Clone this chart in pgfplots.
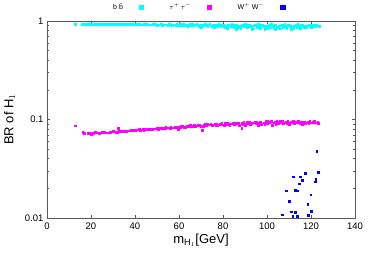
\documentclass[border=0pt]{standalone}
\usepackage{pgfplots}
\pgfplotsset{compat=1.18}
\usepackage{fontspec}
\setmainfont{Liberation Sans}
\definecolor{cy}{RGB}{0,255,255}
\definecolor{mg}{RGB}{255,0,255}
\definecolor{bl}{RGB}{0,0,255}
\begin{document}
\begin{tikzpicture}
\path[use as bounding box] (-47pt,-44pt) rectangle (327pt,218pt);
\begin{axis}[
  scale only axis, width=308pt, height=197pt,
  xmin=0, xmax=140, ymode=log, ymin=0.01, ymax=1,
  xtick={0,20,...,140},
  ytick={0.01,0.1,1}, yticklabels={0.01,0.1,1},
  tick align=inside, xtick pos=both, ytick pos=both,
  axis line style={gray!70!black, line width=0.5pt},
  tick style={gray!70!black, line width=0.5pt},
  major tick length=3pt, minor tick length=1.8pt,
  /pgf/number format/assume math mode=true,
  tick label style={font=\fontsize{9.5}{11}\selectfont, text=black},
  xticklabel style={yshift=-1.5pt},
  xlabel={m$_{\mathrm{H}_1}$[GeV]},
  ylabel={BR of H$_1$},
  label style={font=\fontsize{13}{15}\selectfont},
  xlabel style={yshift=3pt},
  ylabel style={yshift=3pt},
  legend style={at={(0.5,1)}, anchor=center, yshift=14pt, xshift=-3pt, draw=none, fill=none,
    font=\fontsize{7}{8}\selectfont, legend columns=3,
    /tikz/every odd column/.append style={column sep=14pt},
    /tikz/every even column/.append style={column sep=24pt}},
  legend plot pos=right,
  legend image code/.code={\draw[mark=square*, mark size=2.2pt, mark options={draw=none}] plot coordinates {(0cm,0cm)};},
  only marks,
]
\addplot[cy, mark=square*, mark size=0.85pt, mark options={draw=none, fill=cy}] coordinates {
(12.7,0.922) (15.8,0.926) (16.8,0.924) (18.0,0.927) (19.3,0.923) (20.5,0.926) (21.8,0.924) (23.0,0.927)
(24.3,0.922) (25.5,0.925) (26.8,0.927) (28.0,0.923) (29.3,0.926) (30.5,0.924) (31.8,0.921) (33.0,0.925)
(34.3,0.923) (35.5,0.926) (36.8,0.922) (38.0,0.924) (39.3,0.921) (40.5,0.925) (41.8,0.923) (43.0,0.920)
(44.3,0.924) (45.5,0.922) (46.8,0.919) (48.0,0.923) (49.3,0.921) (50.5,0.918) (51.8,0.922) (53.0,0.920)
(54.3,0.916) (55.5,0.921) (56.8,0.918) (58.0,0.914) (59.0,0.924) (59.5,0.895) (60.5,0.921) (61.0,0.910)
(20,0.916) (25,0.917) (30,0.915) (35,0.916) (40,0.914) (45,0.915) (50,0.912) (55,0.910)
(22.5,0.919) (27.5,0.918) (32.5,0.917) (37.5,0.918) (42.5,0.916) (47.5,0.914) (52.5,0.913) (57,0.908)
(62.0,0.926) (62.5,0.902) (63.5,0.918) (64.0,0.885) (65.0,0.922) (65.5,0.906) (66.5,0.915) (67.0,0.893)
(68.0,0.924) (68.5,0.900) (69.5,0.912) (70.0,0.870) (71.0,0.919) (71.5,0.896) (72.5,0.908) (73.0,0.880)
(74.0,0.921) (74.5,0.894) (75.5,0.905) (76.0,0.862) (77.0,0.917) (77.5,0.890) (78.5,0.903) (79.0,0.875)
(80.0,0.920) (80.5,0.885) (81.5,0.898) (82.0,0.845) (83.0,0.915) (83.5,0.880) (84.5,0.900) (85.0,0.860)
(86.0,0.918) (86.5,0.887) (87.5,0.897) (88.0,0.840) (89.0,0.913) (89.5,0.876) (90.5,0.895) (91.0,0.855)
(92.0,0.916) (92.5,0.884) (93.5,0.898) (94.0,0.835) (95.0,0.912) (95.5,0.872) (96.5,0.893) (97.0,0.850)
(98.0,0.917) (98.5,0.882) (99.5,0.896) (100.0,0.842) (101.0,0.913) (101.5,0.870) (102.5,0.890) (103.0,0.852)
(104.0,0.915) (104.5,0.878) (105.5,0.893) (106.0,0.838) (107.0,0.911) (107.5,0.868) (108.5,0.887) (109.0,0.848)
(110.0,0.914) (110.5,0.875) (111.5,0.891) (112.0,0.845) (113.0,0.910) (113.5,0.868) (114.5,0.885) (115.0,0.850)
(116.0,0.913) (116.5,0.873) (117.5,0.889) (118.0,0.855) (119.0,0.908) (119.5,0.877) (120.0,0.862) (120.5,0.892)
(121.0,0.900) (122.0,0.882) (123.0,0.895) (123.8,0.888)
(58.5,0.912) (60.0,0.905) (61.5,0.917) (63.0,0.898) (64.5,0.912) (66.0,0.903) (67.5,0.918) (69.0,0.889)
(70.5,0.907) (72.0,0.898) (73.5,0.914) (75.0,0.883) (76.5,0.909) (78.0,0.894) (79.5,0.912) (81.0,0.872)
(82.5,0.905) (84.0,0.889) (85.5,0.910) (87.0,0.866) (88.5,0.902) (90.0,0.886) (91.5,0.908) (93.0,0.862)
(94.5,0.900) (96.0,0.880) (97.5,0.906) (99.0,0.865) (100.5,0.899) (102.0,0.878) (103.5,0.905) (105.0,0.860)
(106.5,0.897) (108.0,0.876) (109.5,0.902) (111.0,0.858) (112.5,0.896) (114.0,0.872) (115.5,0.900) (117.0,0.862)
(118.5,0.893) (120.0,0.905) (121.5,0.887) (122.5,0.910) (66.0,0.925) (72.0,0.927) (78.0,0.924) (84.0,0.926)
(90.0,0.923) (96.0,0.925) (102.0,0.922) (108.0,0.924) (114.0,0.921) (120.0,0.918) (86.0,0.822) (99.0,0.815)
(104.0,0.825) (111.0,0.818) (93.0,0.828)
};
\addlegendentry{b \={b}}
\addplot[mg, mark=square*, mark size=0.85pt, mark options={draw=none, fill=mg}] coordinates {
(12.7,0.0865) (16.2,0.0740) (17.0,0.0730) (18.8,0.0722) (19.5,0.0730) (21.0,0.0725) (22.3,0.0733) (23.5,0.0728)
(25.0,0.0738) (26.2,0.0742) (27.5,0.0737) (28.8,0.0746) (30.0,0.0750) (31.2,0.0748) (32.4,0.0815) (32.6,0.0757)
(33.8,0.0760) (35.0,0.0765) (36.2,0.0772) (37.5,0.0768) (38.7,0.0778) (40.0,0.0781) (41.3,0.0786) (42.5,0.0783)
(43.8,0.0792) (45.0,0.0797) (46.2,0.0795) (47.5,0.0803) (48.7,0.0808) (50.0,0.0812) (50.5,0.0800) (51.4,0.0818)
(52.6,0.0822) (53.8,0.0815) (55.0,0.0828) (56.2,0.0834) (57.5,0.0826) (58.7,0.0839) (59.7,0.0802) (60.0,0.0845)
(20,0.0715) (24,0.0721) (28,0.0735) (32,0.0743) (36,0.0760) (40,0.0772) (44,0.0783) (48,0.0796) (52,0.0810) (56,0.0820)
(22,0.0740) (26,0.0750) (30,0.0758) (34,0.0772) (38,0.0785) (42,0.0795) (46,0.0808) (50,0.0822) (54,0.0832) (58,0.0845)
(60.8,0.0832) (61.3,0.0851) (62.5,0.0842) (63.7,0.0857) (64.4,0.0868) (65.0,0.0849) (66.2,0.0862) (67.0,0.0875)
(67.5,0.0855) (68.7,0.0869) (69.4,0.0882) (70.0,0.0860) (70.6,0.0774) (71.2,0.0878) (72.0,0.0890) (72.5,0.0866)
(73.7,0.0884) (74.4,0.0897) (75.0,0.0872) (76.2,0.0893) (77.0,0.0905) (77.5,0.0879) (78.7,0.0899) (79.4,0.0910)
(80.0,0.0885) (80.6,0.0868) (81.2,0.0902) (82.0,0.0915) (82.5,0.0890) (83.7,0.0906) (84.4,0.0922) (85.0,0.0893)
(86.2,0.0912) (87.0,0.0928) (87.5,0.0880) (88.5,0.0815) (88.7,0.0915) (89.4,0.0932) (90.0,0.0898) (91.2,0.0920)
(92.0,0.0940) (92.5,0.0903) (93.7,0.0925) (94.4,0.0945) (95.0,0.0905) (96.2,0.0928) (97.0,0.0950) (97.5,0.0897)
(98.7,0.0931) (99.4,0.0955) (100.0,0.0910) (101.2,0.0935) (102.0,0.0960) (102.5,0.0870) (103.7,0.0938) (104.4,0.0958)
(105.0,0.0912) (106.2,0.0940) (107.0,0.0962) (107.5,0.0918) (108.7,0.0942) (109.4,0.0957) (110.0,0.0915) (111.2,0.0944)
(112.0,0.0965) (112.5,0.0920) (113.7,0.0940) (114.4,0.0955) (115.0,0.0905) (116.2,0.0938) (117.0,0.0952) (117.5,0.0918)
(118.7,0.0940) (119.4,0.0960) (120.0,0.0925) (121.0,0.0945) (121.6,0.0974) (122.3,0.0930) (123.3,0.0917)
(61,0.0862) (63,0.0838) (65,0.0872) (67,0.0850) (69,0.0888) (71,0.0862) (73,0.0895) (75,0.0885)
(77,0.0870) (79,0.0900) (81,0.0920) (83,0.0882) (85,0.0925) (87,0.0905) (89,0.0888) (91,0.0935)
(93,0.0912) (95,0.0940) (97,0.0918) (99,0.0902) (101,0.0948) (103,0.0925) (105,0.0950) (107,0.0930)
(109,0.0905) (111,0.0952) (113,0.0932) (115,0.0948) (117,0.0928) (119,0.0912) (121,0.0950) (123,0.0935)
(90,0.0870) (96,0.0882) (104,0.0895) (110,0.0892) (116,0.0890) (100,0.0965) (106,0.0972) (114,0.0968)
};
\addlegendentry{$\tau^+\,\tau^-$}
\addplot[bl, mark=square*, mark size=0.85pt, mark options={draw=none, fill=bl}] coordinates {
(122.6,0.0475) (123.3,0.0291) (122.1,0.0247) (122.0,0.0234) (117.3,0.0284) (116.0,0.0243) (114.7,0.0223)
(112.0,0.0263) (115.0,0.0263) (112.9,0.0192) (113.6,0.0189) (108.6,0.0189) (119.9,0.0172) (110.1,0.0149)
(118.5,0.0139) (110.9,0.0116) (112.9,0.0114) (120.0,0.0118) (107.0,0.0108) (111.7,0.0105) (113.6,0.0105)
(118.8,0.0107)
};
\addlegendentry{W$^+$ W$^-$}
\end{axis}
\end{tikzpicture}
\end{document}
